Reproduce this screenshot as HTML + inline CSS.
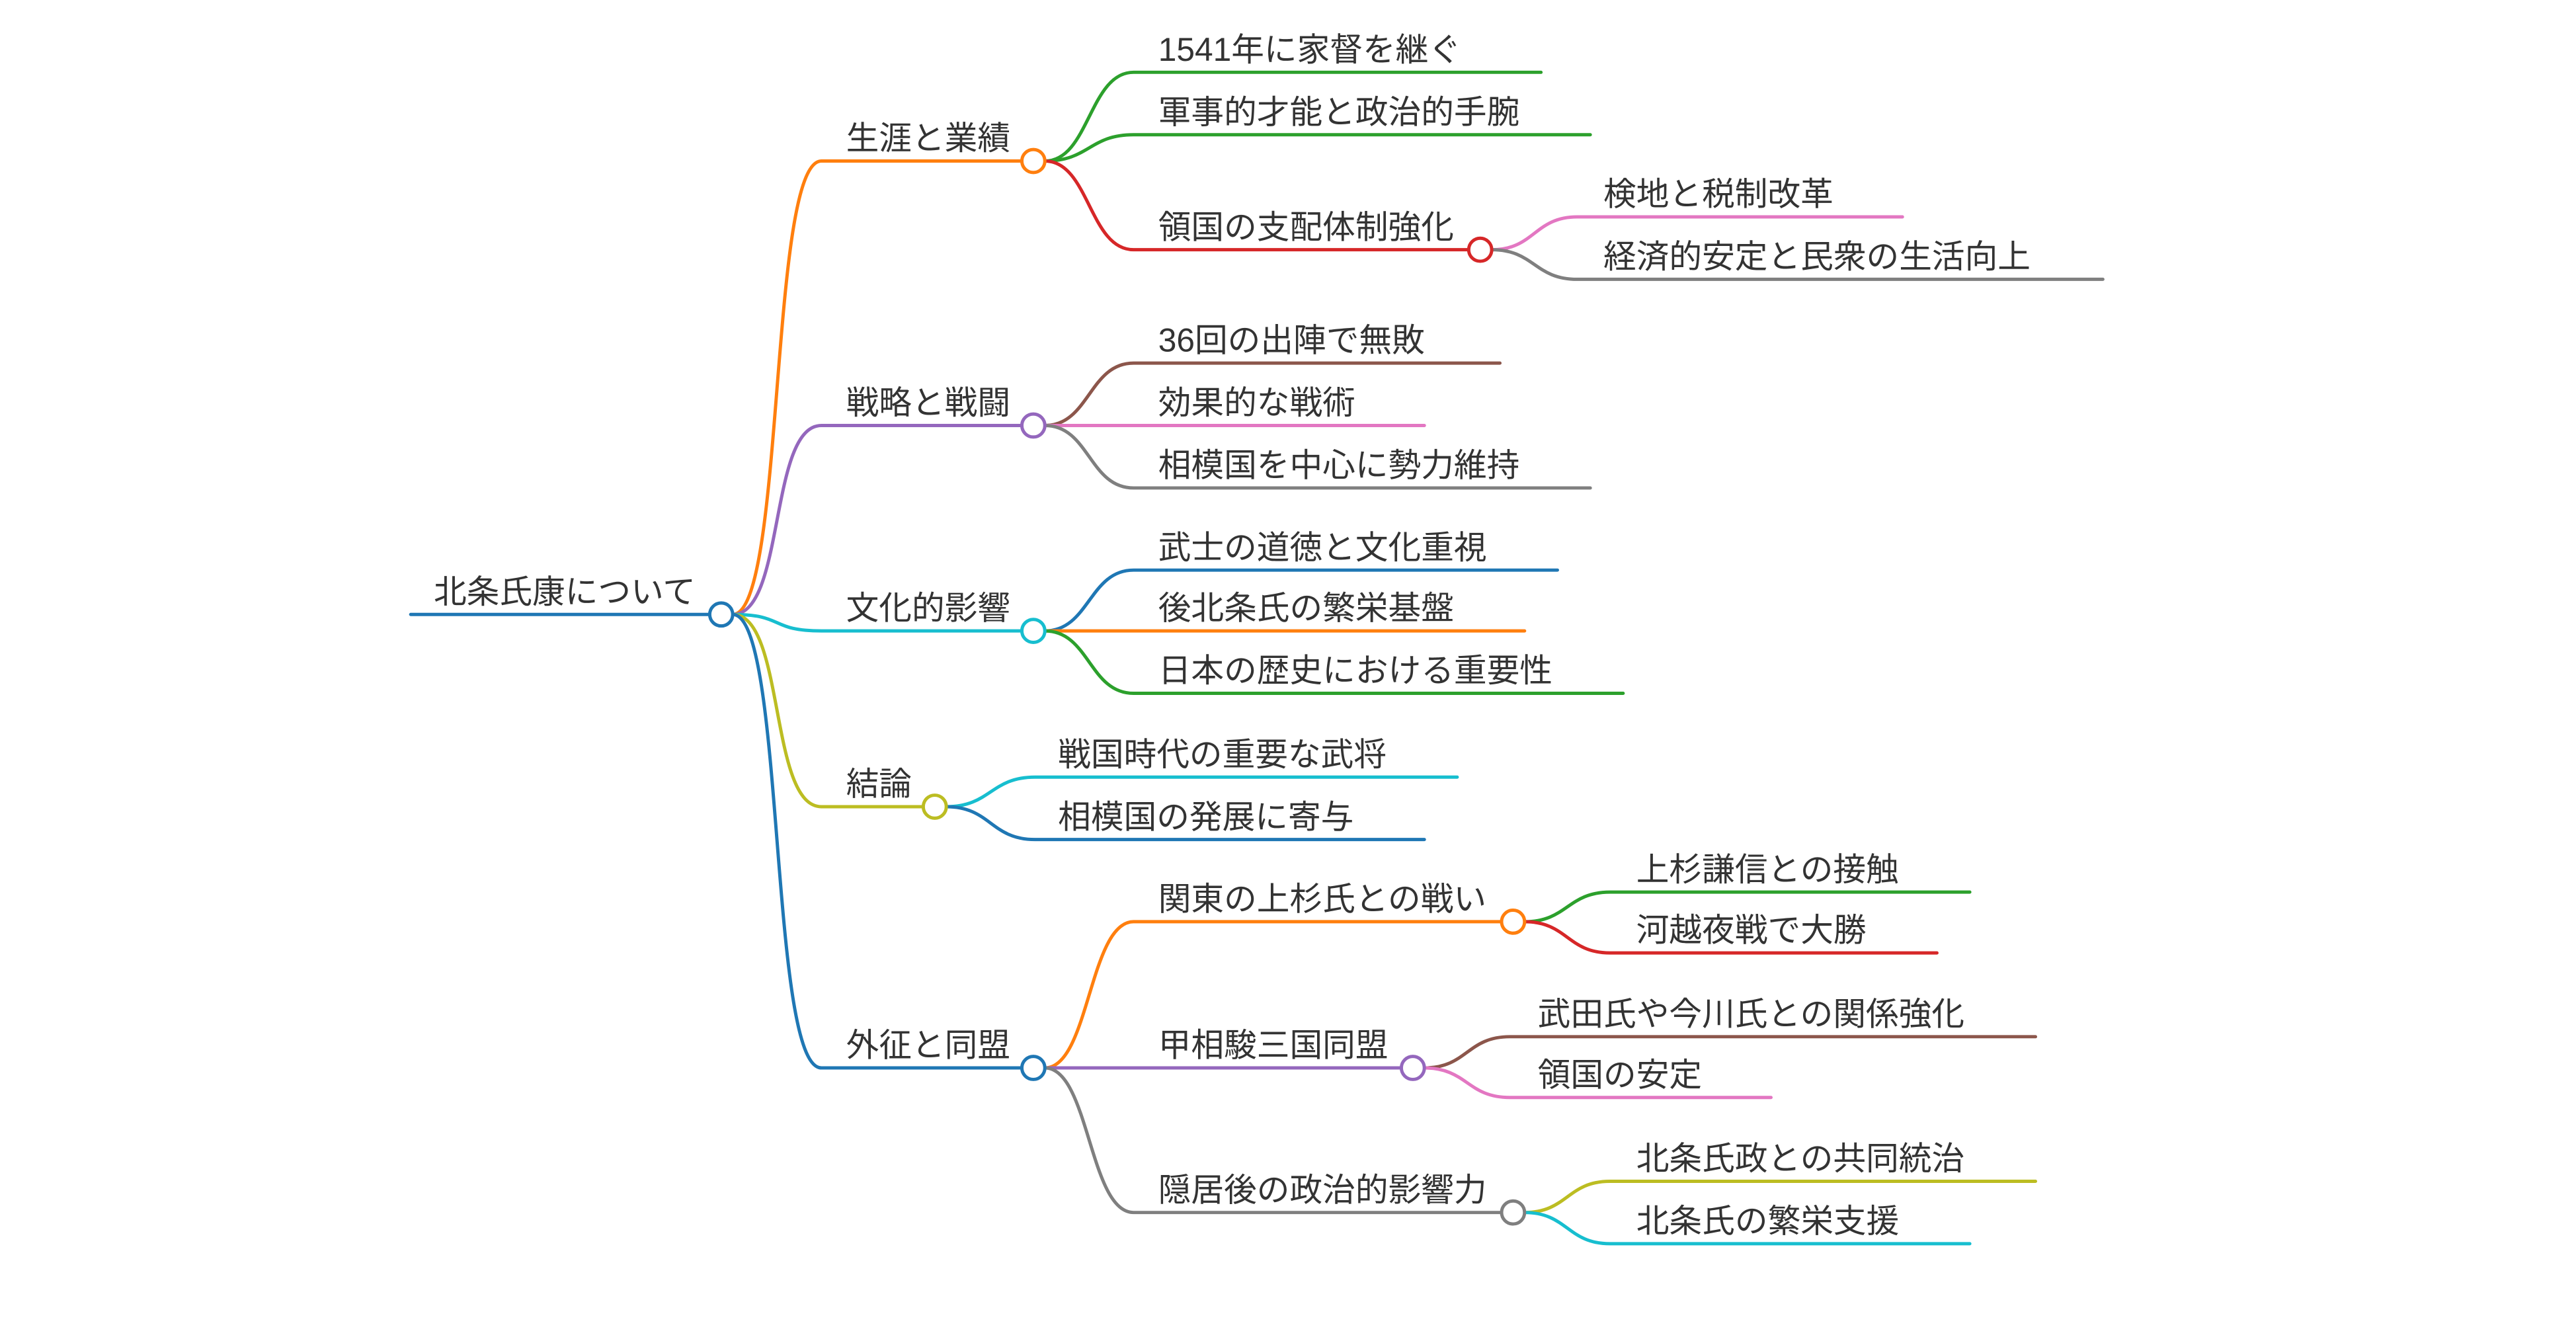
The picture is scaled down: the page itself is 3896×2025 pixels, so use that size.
<!DOCTYPE html>
<html><head><meta charset="utf-8"><style>
html,body{margin:0;padding:0;background:#fff;}
svg{display:block}
text{font-family:"Liberation Sans","Noto Sans CJK JP",sans-serif;font-size:20px;fill:#333;}
path{fill:none;stroke-width:2;stroke-linecap:round}
circle{fill:#fff;stroke-width:2}
</style></head><body>
<svg width="3896" height="2025" viewBox="0 0 1568 815" preserveAspectRatio="none" xmlns="http://www.w3.org/2000/svg">
<path d="M250 374 L432 374" stroke="#1f77b4"/>
<text x="264" y="367">北条氏康について</text>
<path d="M446 374 C478 374 468 98 500 98 L622 98" stroke="#ff7f0e"/>
<path d="M446 374 C478 374 468 259 500 259 L622 259" stroke="#9467bd"/>
<path d="M446 374 C478 374 468 384 500 384 L622 384" stroke="#17becf"/>
<path d="M446 374 C478 374 468 491 500 491 L562 491" stroke="#bcbd22"/>
<path d="M446 374 C478 374 468 650 500 650 L622 650" stroke="#1f77b4"/>
<text x="515" y="91">生涯と業績</text>
<text x="515" y="252">戦略と戦闘</text>
<text x="515" y="377">文化的影響</text>
<text x="515" y="484">結論</text>
<text x="515" y="643">外征と同盟</text>
<path d="M636 98 C663 98 663 44 690 44 L938 44" stroke="#2ca02c"/>
<path d="M636 98 C663 98 663 82 690 82 L968 82" stroke="#2ca02c"/>
<path d="M636 98 C663 98 663 152 690 152 L894 152" stroke="#d62728"/>
<text x="705" y="37">1541年に家督を継ぐ</text>
<text x="705" y="75">軍事的才能と政治的手腕</text>
<text x="705" y="145">領国の支配体制強化</text>
<path d="M908 152 C934 152 934 132 960 132 L1158 132" stroke="#e377c2"/>
<path d="M908 152 C934 152 934 170 960 170 L1280 170" stroke="#7f7f7f"/>
<text x="976" y="125">検地と税制改革</text>
<text x="976" y="163">経済的安定と民衆の生活向上</text>
<circle cx="901" cy="152" r="7" stroke="#d62728"/>
<path d="M636 259 C663 259 663 221 690 221 L913 221" stroke="#8c564b"/>
<path d="M636 259 L867 259" stroke="#e377c2"/>
<path d="M636 259 C663 259 663 297 690 297 L968 297" stroke="#7f7f7f"/>
<text x="705" y="214">36回の出陣で無敗</text>
<text x="705" y="252">効果的な戦術</text>
<text x="705" y="290">相模国を中心に勢力維持</text>
<path d="M636 384 C663 384 663 347 690 347 L948 347" stroke="#1f77b4"/>
<path d="M636 384 L928 384" stroke="#ff7f0e"/>
<path d="M636 384 C663 384 663 422 690 422 L988 422" stroke="#2ca02c"/>
<text x="705" y="340">武士の道徳と文化重視</text>
<text x="705" y="377">後北条氏の繁栄基盤</text>
<text x="705" y="415">日本の歴史における重要性</text>
<path d="M576 491 C603 491 603 473 630 473 L887 473" stroke="#17becf"/>
<path d="M576 491 C603 491 603 511 630 511 L867 511" stroke="#1f77b4"/>
<text x="644" y="466">戦国時代の重要な武将</text>
<text x="644" y="504">相模国の発展に寄与</text>
<path d="M636 650 C663 650 663 561 690 561 L914 561" stroke="#ff7f0e"/>
<path d="M636 650 L853 650" stroke="#9467bd"/>
<path d="M636 650 C663 650 663 738 690 738 L914 738" stroke="#7f7f7f"/>
<text x="705" y="554">関東の上杉氏との戦い</text>
<text x="705" y="643">甲相駿三国同盟</text>
<text x="705" y="731">隠居後の政治的影響力</text>
<path d="M928 561 C954 561 954 543 980 543 L1199 543" stroke="#2ca02c"/>
<path d="M928 561 C954 561 954 580 980 580 L1179 580" stroke="#d62728"/>
<text x="996" y="536">上杉謙信との接触</text>
<text x="996" y="573">河越夜戦で大勝</text>
<path d="M867 650 C893 650 893 631 919 631 L1239 631" stroke="#8c564b"/>
<path d="M867 650 C893 650 893 668 919 668 L1078 668" stroke="#e377c2"/>
<text x="936" y="624">武田氏や今川氏との関係強化</text>
<text x="936" y="661">領国の安定</text>
<path d="M928 738 C954 738 954 719 980 719 L1239 719" stroke="#bcbd22"/>
<path d="M928 738 C954 738 954 757 980 757 L1199 757" stroke="#17becf"/>
<text x="996" y="712">北条氏政との共同統治</text>
<text x="996" y="750">北条氏の繁栄支援</text>
<circle cx="439" cy="374" r="7" stroke="#1f77b4"/>
<circle cx="629" cy="98" r="7" stroke="#ff7f0e"/>
<circle cx="629" cy="259" r="7" stroke="#9467bd"/>
<circle cx="629" cy="384" r="7" stroke="#17becf"/>
<circle cx="569" cy="491" r="7" stroke="#bcbd22"/>
<circle cx="629" cy="650" r="7" stroke="#1f77b4"/>
<circle cx="921" cy="561" r="7" stroke="#ff7f0e"/>
<circle cx="860" cy="650" r="7" stroke="#9467bd"/>
<circle cx="921" cy="738" r="7" stroke="#7f7f7f"/>
</svg>
</body></html>
